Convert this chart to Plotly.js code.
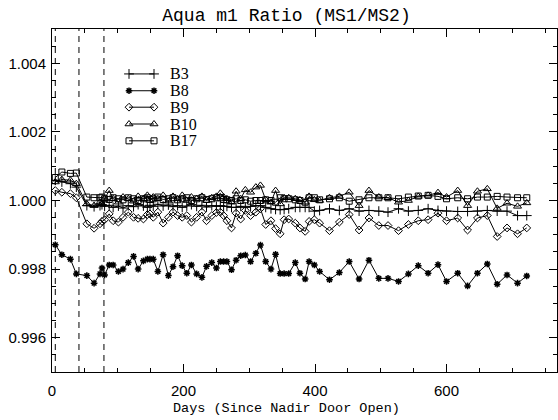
<!DOCTYPE html>
<html><head><meta charset="utf-8">
<script src="https://cdn.plot.ly/plotly-3.0.1.min.js"></script>
<style>html,body{margin:0;padding:0;background:#fff}#chart{width:558px;height:420px}</style>
</head><body><div id="chart"></div>
<script>
const days = [5,15,28,37,53,64,73,76,80,87,93,101,108,116,124,131,139,145,149,154,161,169,177,184,191,198,205,212,220,228,235,243,250,256,261,266,273,280,287,294,302,310,317,325,333,340,347,353,360,370,377,385,391,399,407,422,437,452,467,482,497,511,527,542,557,572,587,600,617,632,647,662,677,692,708,722];

const b3 = [1.00059,1.00054,1.00049,1.00039,0.99985,0.99982,0.99985,0.99988,0.99983,0.99986,0.99980,0.99984,0.99978,0.99985,0.99982,0.99988,0.99984,0.99980,0.99986,0.99983,0.99989,0.99984,0.99987,0.99982,0.99985,0.99980,0.99984,0.99988,0.99983,0.99986,0.99981,0.99985,0.99983,0.99985,0.99983,0.99983,0.99980,0.99980,0.99983,0.99980,0.99983,0.99985,0.99985,0.99980,0.99976,0.99974,0.99973,0.99974,0.99976,0.99980,0.99980,0.99980,0.99980,0.99969,0.99971,0.99976,0.99971,0.99976,0.99969,0.99971,0.99969,0.99966,0.99976,0.99969,0.99971,0.99976,0.99971,0.99969,0.99968,0.99968,0.99969,0.99971,0.99969,0.99969,0.99956,0.99956];

const b8 = [0.99871,0.99842,0.99829,0.99786,0.99781,0.99759,0.99786,0.99803,0.99783,0.99812,0.99812,0.99793,0.99800,0.99819,0.99837,0.99800,0.99824,0.99829,0.99829,0.99829,0.99793,0.99842,0.99781,0.99807,0.99839,0.99810,0.99788,0.99812,0.99786,0.99776,0.99808,0.99819,0.99803,0.99822,0.99822,0.99822,0.99798,0.99826,0.99839,0.99841,0.99822,0.99846,0.99870,0.99822,0.99800,0.99843,0.99787,0.99787,0.99787,0.99819,0.99788,0.99771,0.99822,0.99812,0.99793,0.99769,0.99790,0.99822,0.99771,0.99826,0.99773,0.99773,0.99764,0.99786,0.99810,0.99788,0.99813,0.99764,0.99788,0.99751,0.99788,0.99815,0.99756,0.99783,0.99759,0.99780];

const b9 = [1.00029,1.00024,1.00020,1.00008,0.99932,0.99919,0.99932,0.99939,0.99944,0.99961,0.99941,0.99937,0.99951,0.99966,0.99951,0.99948,0.99946,0.99959,0.99961,0.99951,0.99966,0.99934,0.99951,0.99966,0.99956,0.99951,0.99956,0.99937,0.99951,0.99966,0.99941,0.99956,0.99965,0.99966,0.99956,0.99941,0.99920,0.99963,0.99946,0.99971,0.99956,0.99966,0.99976,0.99930,0.99941,0.99918,0.99903,0.99944,0.99946,0.99934,0.99920,0.99910,0.99939,0.99944,0.99934,0.99912,0.99937,0.99959,0.99914,0.99949,0.99927,0.99927,0.99912,0.99930,0.99941,0.99944,0.99963,0.99941,0.99949,0.99914,0.99949,0.99956,0.99895,0.99920,0.99903,0.99920];

const b10 = [1.00054,1.00061,1.00059,1.00049,0.99990,0.99985,0.99995,0.99990,1.00005,1.00029,1.00005,0.99995,1.00010,1.00005,0.99998,1.00012,1.00005,1.00015,1.00000,1.00010,1.00005,1.00015,0.99998,1.00012,1.00005,1.00015,1.00000,1.00010,1.00005,1.00012,1.00000,1.00008,1.00012,1.00021,1.00010,1.00005,0.99995,1.00027,1.00005,1.00031,1.00024,1.00039,1.00044,1.00002,0.99995,1.00029,0.99990,1.00008,1.00008,1.00005,1.00002,0.99995,1.00012,1.00002,1.00000,1.00008,1.00012,1.00024,0.99985,1.00029,1.00010,1.00008,0.99995,1.00000,1.00012,1.00015,1.00023,1.00010,1.00029,0.99985,1.00027,1.00034,0.99977,0.99992,0.99983,0.99993];

const b17 = [1.00067,1.00083,1.00079,1.00080,1.00010,1.00008,1.00008,1.00010,1.00005,1.00003,1.00008,1.00005,1.00002,1.00008,1.00005,1.00000,1.00005,1.00008,1.00003,1.00005,1.00010,1.00003,1.00005,1.00008,1.00002,1.00005,1.00008,1.00000,1.00005,1.00008,1.00003,1.00005,1.00008,1.00008,1.00003,1.00002,1.00000,1.00005,1.00000,1.00002,0.99998,1.00000,1.00000,1.00002,1.00000,0.99995,1.00008,1.00005,1.00005,1.00002,1.00000,0.99995,1.00008,1.00008,1.00002,1.00005,1.00008,0.99998,1.00002,1.00008,1.00008,1.00008,1.00005,1.00010,1.00013,1.00015,1.00012,1.00005,1.00008,1.00005,1.00010,1.00010,1.00012,1.00010,1.00008,1.00008];

const eventDays = [5, 41, 79];
const bandNames = ['B3', 'B8', 'B9', 'B10', 'B17'];
const bandValues = [b3, b8, b9, b10, b17];

const markerStyles = [
  {symbol: 'cross-thin-open', size: 7, line: {width: 1, color: '#000'}},
  {symbol: 'asterisk-open', size: 5.5, line: {width: 1.5, color: '#000'}},
  {symbol: 'diamond-open', size: 6, line: {width: 1, color: '#000'}},
  {symbol: 'triangle-up-open', size: 7, line: {width: 1, color: '#000'}},
  {symbol: 'square-open', size: 6, line: {width: 1, color: '#000'}}
];

const traces = [];
bandNames.forEach(function (name, i) {
  traces.push({
    x: days, y: bandValues[i], name: name, type: 'scatter', mode: 'lines+markers',
    line: {color: '#000', width: 1}, marker: Object.assign({color: '#000'}, markerStyles[i]),
    showlegend: false, cliponaxis: true
  });
});

// hand-drawn legend on a helper axis pair (0..1 fractions of the plot area)
const legX0 = 0.1525, legX1 = 0.202, legTextX = 0.232;
const legY = [0.869, 0.820, 0.772, 0.723, 0.674];
const annotations = [];
bandNames.forEach(function (name, i) {
  traces.push({
    x: [legX0, legX1], y: [legY[i], legY[i]], xaxis: 'x2', yaxis: 'y2',
    type: 'scatter', mode: 'lines+markers', hoverinfo: 'skip',
    line: {color: '#000', width: 1}, marker: Object.assign({color: '#000'}, markerStyles[i]),
    showlegend: false
  });
  annotations.push({
    xref: 'paper', yref: 'paper', x: legTextX, y: legY[i], xanchor: 'left', yanchor: 'middle',
    text: name, showarrow: false, borderpad: 0,
    font: {family: 'Liberation Serif', size: 16, color: '#000'}
  });
});

annotations.push({
  xref: 'paper', yref: 'paper', x: 0.4644, y: -0.106, xanchor: 'center', yanchor: 'middle',
  text: 'Days (Since Nadir Door Open)', showarrow: false,
  font: {family: 'Liberation Mono', size: 13.5, color: '#000'}
});

const shapes = eventDays.map(function (d) {
  return {type: 'line', xref: 'x', yref: 'paper', x0: d, x1: d, y0: 0, y1: 1,
          line: {color: '#000', width: 1, dash: '6px,5px'}};
});

const axisCommon = {
  showline: true, linecolor: '#000', linewidth: 1, mirror: 'allticks',
  ticks: 'inside', ticklen: 8, tickwidth: 1, tickcolor: '#000',
  showgrid: false, zeroline: false,
  tickfont: {family: 'Liberation Sans', size: 15, color: '#000'}
};

const layout = {
  width: 558, height: 420,
  margin: {l: 52, r: 1, t: 29, b: 48, pad: 0},
  paper_bgcolor: '#fff', plot_bgcolor: '#fff',
  title: {text: 'Aqua m1 Ratio (MS1/MS2)', x: 0.5134, xanchor: 'center', y: 0.964, yanchor: 'middle',
          font: {family: 'Liberation Mono', size: 18, color: '#000'}},
  xaxis: Object.assign({}, axisCommon, {
    range: [0, 768], tick0: 0, dtick: 200, ticklabelstandoff: 5,
    minor: {dtick: 50, ticks: 'inside', ticklen: 4, tickcolor: '#000', tickwidth: 1}
  }),
  yaxis: Object.assign({}, axisCommon, {
    range: [0.995, 1.005], tick0: 0.996, dtick: 0.002, tickformat: '.3f', ticklabelstandoff: 2,
    minor: {dtick: 0.0005, tick0: 0.995, ticks: 'inside', ticklen: 4, tickcolor: '#000', tickwidth: 1}
  }),
  xaxis2: {overlaying: 'x', range: [0, 1], visible: false, fixedrange: true},
  yaxis2: {overlaying: 'y', range: [0, 1], visible: false, fixedrange: true},
  shapes: shapes,
  annotations: annotations,
  showlegend: false
};

Plotly.newPlot('chart', traces, layout, {displayModeBar: false, staticPlot: true});
</script>
</body></html>
